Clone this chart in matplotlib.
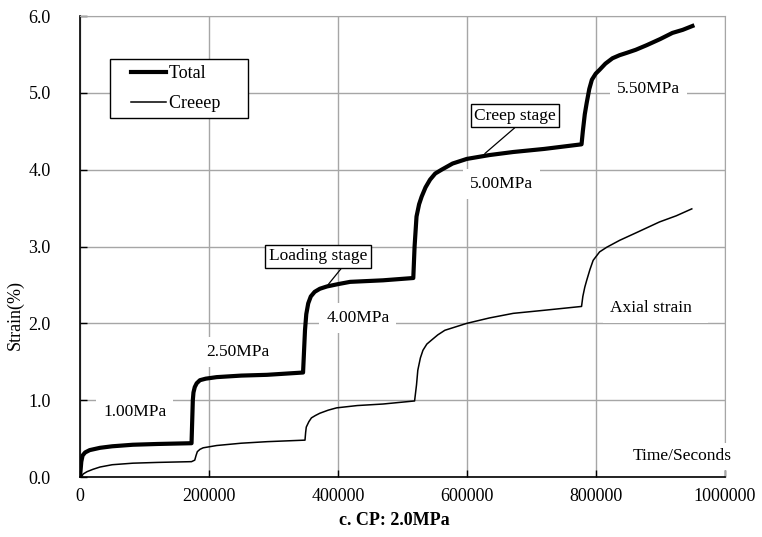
import matplotlib
matplotlib.use('Agg')
import matplotlib.pyplot as plt
from matplotlib.legend_handler import HandlerLine2D

plt.rcParams['font.family'] = ['Liberation Serif', 'DejaVu Serif']

# total strain, multi-stage loading (time in seconds, strain in %)
total_t = [0, 2000, 4000, 8000, 15000, 31000, 50000, 82000, 120000, 173000,
           175000, 176000, 178000, 181000, 186000, 195000, 212000, 250000, 290000, 346000,
           349000, 351000, 354000, 358000, 364000, 372000, 383000, 400000, 419000, 470000, 517000,
           519000, 522000, 526000, 530000, 536000, 543000, 551000, 561000, 578000, 600000,
           635000, 672000, 720000, 778000,
           780000, 783000, 786000, 790000, 794000, 800000, 806000, 815000, 826000, 837000,
           848000, 862000, 879000, 900000, 919000, 935000, 950000]
total_s = [0.0, 0.20, 0.28, 0.32, 0.35, 0.38, 0.40, 0.42, 0.43, 0.44,
           1.00, 1.10, 1.17, 1.22, 1.26, 1.28, 1.30, 1.32, 1.33, 1.36,
           1.91, 2.12, 2.26, 2.35, 2.41, 2.45, 2.48, 2.51, 2.54, 2.56, 2.59,
           3.00, 3.39, 3.55, 3.65, 3.77, 3.87, 3.95, 4.00, 4.08, 4.14,
           4.19, 4.23, 4.27, 4.33,
           4.50, 4.72, 4.87, 5.05, 5.17, 5.25, 5.30, 5.38, 5.45, 5.49,
           5.52, 5.56, 5.62, 5.70, 5.78, 5.82, 5.87]

# creep strain
creep_t = [0, 2000, 5000, 11000, 20000, 31000, 50000, 82000, 120000, 173000,
           178000, 180000, 182000, 186000, 191000, 212000, 250000, 290000, 349000,
           350000, 351000, 355000, 359000, 365000, 372000, 385000, 398000, 430000, 470000, 519000,
           522000, 524000, 528000, 532000, 538000, 545000, 555000, 566000, 600000,
           635000, 672000, 720000, 778000,
           780000, 783000, 786000, 791000, 796000, 806000, 817000, 837000,
           863000, 899000, 925000, 949000]
creep_s = [0.0, 0.0, 0.04, 0.07, 0.10, 0.13, 0.16, 0.18, 0.19, 0.20,
           0.22, 0.28, 0.33, 0.36, 0.38, 0.41, 0.44, 0.46, 0.48,
           0.58, 0.65, 0.72, 0.77, 0.80, 0.83, 0.87, 0.90, 0.93, 0.95, 0.99,
           1.20, 1.39, 1.55, 1.65, 1.73, 1.78, 1.85, 1.91, 2.00,
           2.07, 2.13, 2.17, 2.22,
           2.35, 2.47, 2.56, 2.70, 2.82, 2.93, 2.99, 3.08,
           3.18, 3.32, 3.40, 3.49]

# stress level labels: (text, time, strain)
stress_labels = [('1.00MPa', 85000, 0.84),
                 ('2.50MPa', 245000, 1.63),
                 ('4.00MPa', 431000, 2.07),
                 ('5.00MPa', 654000, 3.81),
                 ('5.50MPa', 882000, 5.05),
                 ('Axial strain  ', 893000, 2.20)]


class InsetLine(HandlerLine2D):
    # legend line starts a little way into the handle box
    def get_xdata(self, legend, xdescent, ydescent, width, height, fontsize):
        x0 = -xdescent + 0.8 * fontsize
        return [x0, -xdescent + width], [-xdescent + 0.5 * width]


fig = plt.figure(figsize=(7.62, 5.37), dpi=100)
ax = fig.add_axes([0.105, 0.1117, 0.846, 0.8585])

grid_c = '#a6a6a6'
l_total, = ax.plot(total_t, total_s, color='black', lw=3.0, label='Total        ',
                   zorder=4, solid_joinstyle='round')
l_creep, = ax.plot(creep_t, creep_s, color='black', lw=1.1, label='Creeep    ',
                   zorder=4)

ax.set_xlim(0, 1000000)
ax.set_ylim(0, 6)
ax.set_xticks([0, 200000, 400000, 600000, 800000, 1000000])
ax.set_yticks([0, 1, 2, 3, 4, 5, 6])
ax.set_yticklabels(['%.1f' % v for v in ax.get_yticks()])
ax.set_xticklabels(['%d' % v for v in ax.get_xticks()])
ax.grid(True, color=grid_c, lw=1.0)
ax.set_axisbelow(True)

ax.tick_params(axis='both', direction='in', length=5, width=1, labelsize=13)
ax.tick_params(axis='x', pad=8)
ax.tick_params(axis='y', pad=21)
ax.spines['top'].set_color(grid_c)
ax.spines['right'].set_color(grid_c)
ax.spines['left'].set_linewidth(1.2)
ax.spines['bottom'].set_linewidth(1.2)

ax.set_ylabel('Strain(%)', fontsize=13)
ax.yaxis.set_label_coords(-0.087, 0.351)
ax.set_xlabel('c. CP: 2.0MPa', fontsize=13, fontweight='bold')
ax.xaxis.set_label_coords(0.488, -0.075)

for txt, t, s in stress_labels:
    ax.text(t, s, txt, fontsize=12.5, ha='center', va='center', zorder=5,
            bbox=dict(facecolor='white', edgecolor='none', pad=5))

ax.text(934000, 0.27, 'Time/Seconds', fontsize=12.5, ha='center', va='center',
        zorder=5, bbox=dict(facecolor='white', edgecolor='none', pad=4))

ax.annotate('Loading stage', xy=(384500, 2.50), xytext=(369000, 2.87),
            fontsize=12.5, ha='center', va='center', zorder=5,
            bbox=dict(boxstyle='square,pad=0.2', facecolor='white',
                      edgecolor='black', lw=1),
            arrowprops=dict(arrowstyle='-', color='black', lw=0.9,
                            shrinkA=0, shrinkB=0, relpos=(0.77, 0)))
ax.annotate('Creep stage', xy=(628000, 4.21), xytext=(675000, 4.70),
            fontsize=12.5, ha='center', va='center', zorder=5,
            bbox=dict(boxstyle='square,pad=0.2', facecolor='white',
                      edgecolor='black', lw=1),
            arrowprops=dict(arrowstyle='-', color='black', lw=0.9,
                            shrinkA=0, shrinkB=0, relpos=(0.55, 0)))

leg = ax.legend(handler_map={l_total: InsetLine(), l_creep: InsetLine()},
                loc='upper left', bbox_to_anchor=(0.0465, 0.907),
                borderaxespad=0, fancybox=False, edgecolor='black',
                fontsize=13, handlelength=2.75, handletextpad=0.15,
                labelspacing=0.7, borderpad=0.35, framealpha=1)
leg.get_frame().set_linewidth(1.0)
leg.set_zorder(6)

fig.savefig('out.png', dpi=100)
